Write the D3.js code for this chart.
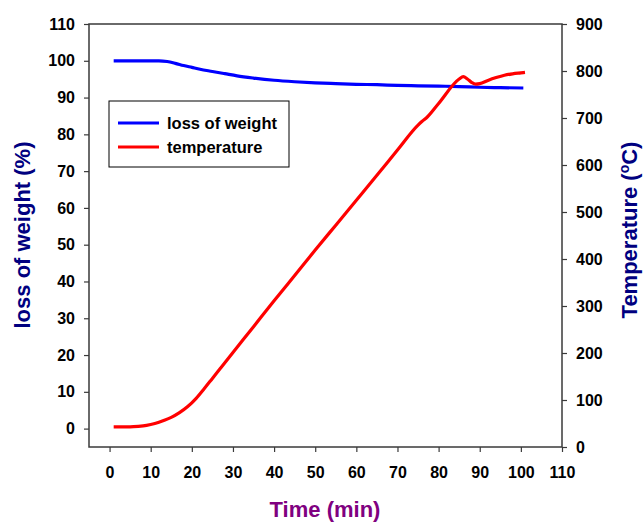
<!DOCTYPE html>
<html>
<head>
<meta charset="utf-8">
<script src="https://cdn.jsdelivr.net/npm/d3@7"></script>
<style>
  body { margin: 0; background: #fff; }
  svg text { font-family: "Liberation Sans", Arial, sans-serif; font-weight: bold; }
</style>
</head>
<body>
<script>
// time (min) and loss of weight (%)
let wTime = [1, 5, 10, 12, 14, 16, 18, 20, 22, 25, 28, 31, 35, 40, 45, 50, 55, 60, 65, 70, 75, 80, 85, 90, 95, 100.6];
let wLoss = [100, 100, 100, 100, 99.8, 99.3, 98.7, 98.2, 97.7, 97.1, 96.5, 95.9, 95.3, 94.7, 94.3, 94.0, 93.8, 93.6, 93.5, 93.3, 93.2, 93.1, 93.0, 92.8, 92.7, 92.6];

// time (min) and temperature (°C)
let tTime = [1, 3, 5, 7, 9, 11, 13, 15, 17, 19, 21, 23, 25, 27, 30, 35, 40, 45, 50, 55, 60, 65, 70, 75, 76, 77, 80, 85, 86, 87, 88, 89, 90, 92, 94, 96, 98, 100, 101];
let tTemp = [43, 43, 43, 44, 46, 50, 56, 63, 73, 86, 103, 124, 146, 168, 201, 256, 311, 365, 419, 472, 525, 578, 632, 685, 693, 700, 731, 783, 788, 783, 776, 772, 773, 780, 786, 791, 794, 796, 797];

let xTicks = d3.range(0, 111, 10);
let yTicks = d3.range(0, 111, 10);
let y2Ticks = d3.range(0, 901, 100);

let width = 644, height = 522;
let plot = {left: 89, right: 562, top: 24, bottom: 447};

let svg = d3.select("body")
  .append("svg")
  .attr("width", width)
  .attr("height", height);

let x = d3.scaleLinear().domain([-5, 110]).range([plot.left, plot.right]);
let y = d3.scaleLinear().domain([-5, 110]).range([plot.bottom, plot.top]);
let y2 = d3.scaleLinear().domain([0, 900]).range([plot.bottom, plot.top]);

// frame
svg.append("rect")
  .attr("x", plot.left).attr("y", plot.top)
  .attr("width", plot.right - plot.left).attr("height", plot.bottom - plot.top)
  .style("fill", "none")
  .style("stroke", "#3a3a3a")
  .style("stroke-width", 1.5);

function styleAxis(g) {
  g.select(".domain").remove();
  g.selectAll(".tick line").style("stroke", "#3a3a3a").style("stroke-width", 1.2);
  g.selectAll(".tick text")
    .style("font-size", "16px")
    .style("fill", "#000");
}

svg.append("g")
  .attr("transform", "translate(0," + plot.bottom + ")")
  .call(d3.axisBottom(x).tickValues(xTicks).tickSize(5).tickPadding(15))
  .call(styleAxis);

svg.append("g")
  .attr("transform", "translate(" + plot.left + ",0)")
  .call(d3.axisLeft(y).tickValues(yTicks).tickSize(5).tickPadding(9))
  .call(styleAxis);

svg.append("g")
  .attr("transform", "translate(" + plot.right + ",0)")
  .call(d3.axisRight(y2).tickValues(y2Ticks).tickSize(5).tickPadding(9))
  .call(styleAxis);

// lines
let weightLine = d3.line()
  .x((d, i) => x(wTime[i]))
  .y(d => y(d))
  .curve(d3.curveMonotoneX);

let tempLine = d3.line()
  .x((d, i) => x(tTime[i]))
  .y(d => y2(d))
  .curve(d3.curveMonotoneX);

svg.append("path")
  .datum(wLoss)
  .attr("d", weightLine)
  .style("fill", "none")
  .style("stroke", "#0000ff")
  .style("stroke-width", 3.2);

svg.append("path")
  .datum(tTemp)
  .attr("d", tempLine)
  .style("fill", "none")
  .style("stroke", "#ff0000")
  .style("stroke-width", 3.2);

// legend
let legend = svg.append("g");
legend.append("rect")
  .attr("x", 109).attr("y", 101)
  .attr("width", 180).attr("height", 66)
  .style("fill", "#fff")
  .style("stroke", "#000")
  .style("stroke-width", 1);

let legendItems = [["loss of weight", "#0000ff"], ["temperature", "#ff0000"]];
legendItems.forEach((d, i) => {
  legend.append("line")
    .attr("x1", 118).attr("x2", 159)
    .attr("y1", 123 + i * 24).attr("y2", 123 + i * 24)
    .style("stroke", d[1])
    .style("stroke-width", 3.2);
  legend.append("text")
    .attr("x", 167).attr("y", 129 + i * 24)
    .style("font-size", "16.5px")
    .style("fill", "#000")
    .text(d[0]);
});

// axis titles
svg.append("text")
  .attr("transform", "translate(30,235) rotate(-90)")
  .attr("text-anchor", "middle")
  .style("font-size", "22px")
  .style("fill", "#000080")
  .text("loss of weight (%)");

let t2 = svg.append("text")
  .attr("transform", "translate(637,230) rotate(-90)")
  .attr("text-anchor", "middle")
  .style("font-size", "22px")
  .style("fill", "#000080");
t2.append("tspan").text("Temperature (");
t2.append("tspan").attr("dy", -8).style("font-size", "14px").text("o");
t2.append("tspan").attr("dy", 8).text("C)");

svg.append("text")
  .attr("x", 325).attr("y", 517)
  .attr("text-anchor", "middle")
  .style("font-size", "22px")
  .style("fill", "#800080")
  .text("Time (min)");
</script>
</body>
</html>
